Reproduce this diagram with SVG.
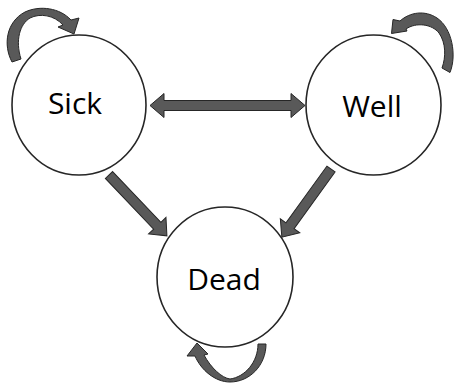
<svg xmlns="http://www.w3.org/2000/svg" width="455" height="386" viewBox="0 0 455 386">
<style>
.node{fill:#ffffff;stroke:#262626;stroke-width:1.6}
.lbl{font-family:"Open Sans","Liberation Sans",sans-serif;font-size:30px;fill:#000000;text-anchor:middle}
.arr{fill:#595959;stroke:#262626;stroke-width:1;stroke-linejoin:miter}
</style>
<rect width="455" height="386" fill="#ffffff"/>
<g id="connectors">
  <polygon class="arr" points="150,105.5 164,93.5 164,100.5 291,100.5 291,93.5 305,105.5 291,117.5 291,110.5 164,110.5 164,117.5"/>
  <polygon class="arr" transform="translate(109,175) rotate(46.4)" points="0,-5 70,-5 70,-12 84,0 70,12 70,5 0,5"/>
  <polygon class="arr" transform="translate(331,169) rotate(125.8)" points="0,-5 70,-5 70,-12 84,0 70,12 70,5 0,5"/>
  <path id="loop-sick" class="arr" d="M12,62 C3,45 6,22 25,12 C40,5 60,8 71,20 L79,18 L74,34 L58,27 L63,25 C54,15 40,13 30,18 C20,24 15,40 21,59 Z"/>
  <path id="loop-well" class="arr" d="M450,72.5 C457,55 452,28 437,18 C425,10 410,12 400,21 L393,19.5 L391.5,33.5 L407,31 L406,29 C416,22 432,24 439,33 C446,43 446,57 442,68 Z"/>
  <path id="loop-dead" class="arr" d="M266,344 C266,365 250,382 230,382 C215,382 201,370 195,356 L187,356 L197,343 L208,354 L204,355 C211,368 222,378 230,379 C245,377 258,362 258,344 Z"/>
</g>
<g id="node-sick">
  <ellipse class="node" cx="79" cy="105" rx="67" ry="70"/>
  <text class="lbl" x="75" y="114">Sick</text>
</g>
<g id="node-well">
  <ellipse class="node" cx="373.5" cy="105" rx="67.5" ry="70"/>
  <text class="lbl" x="372" y="117">Well</text>
</g>
<g id="node-dead">
  <ellipse class="node" cx="225" cy="277" rx="68" ry="70"/>
  <text class="lbl" x="224" y="290">Dead</text>
</g>
</svg>
